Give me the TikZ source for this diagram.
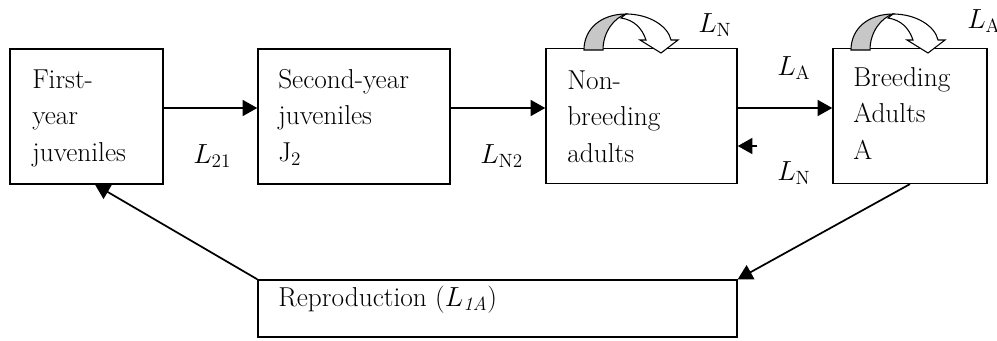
\documentclass[tikz,border=0pt]{standalone}
\usetikzlibrary{arrows.meta}
\begin{document}
\begin{tikzpicture}[x=0.75pt,y=-0.75pt,
  box/.style={draw, line width=1.1pt, inner sep=0pt, minimum height=101pt},
  txt/.style={anchor=base west, inner sep=0pt, font=\fontsize{20.5}{27.4}\selectfont},
  lab/.style={anchor=base west, inner sep=0pt, font=\fontsize{20.5}{24}\selectfont},
  arr/.style={line width=1.3pt, -{Triangle[length=11pt,width=12pt]}},
  loopar/.pic={
    \draw[line width=0.8pt, fill=white]
      (42,-36) .. controls (65,-36) and (84,-24) .. (87,-10)
      -- (94,-10) -- (77,3) -- (56,-10) -- (62,-10)
      .. controls (58,-22) and (50,-30) .. (37,-32) -- cycle;
    \draw[line width=0.8pt, fill=black!22]
      (0,0) .. controls (0,-22) and (18,-36) .. (42,-36)
      .. controls (30,-32) and (19,-18) .. (19,0) -- cycle;
  }]
\useasboundingbox (0,0) rectangle (997,340);

% boxes
\node[box, minimum width=114.75pt] (b1) at (86.5,116.5) {};
\node[box, minimum width=144pt] (b2) at (354,116.5) {};
\node[box, minimum width=143.25pt] (b3) at (641.5,116) {};
\node[box, minimum width=115.5pt] (b4) at (910,116) {};
\node[box, minimum width=359.25pt, minimum height=42.75pt] (rep) at (497.5,308.5) {};

% curved self-loop arrows
\pic at (584,50) {loopar};
\pic at (851,50) {loopar};

% box texts
\node[txt] (t1) at (32,88) {\begin{tabular}[t]{@{}l@{}}First-\\year\\juveniles\end{tabular}};
\node[txt] (t2) at (278,88) {\begin{tabular}[t]{@{}l@{}}Second-year\\juveniles\\J\textsubscript{2}\end{tabular}};
\node[txt] (t3) at (567,89) {\begin{tabular}[t]{@{}l@{}}Non-\\breeding\\adults\end{tabular}};
\node[txt] (t4) at (853,86) {\begin{tabular}[t]{@{}l@{}}Breeding\\Adults\\A\end{tabular}};
\node[txt] (t5) at (278,306) {Reproduction ($L_{\mathit{1A}}$)};

% connectors
\coordinate (nb) at (757,146);
\draw[arr] (b1.east |- 0,108) -- (b2.west |- 0,108);
\draw[arr] (b2.east |- 0,108) -- (b3.west |- 0,108);
\draw[arr] (b3.east |- 0,108) -- (b4.west |- 0,108);
\draw[arr] (nb) -- (b3.east |- nb);
\draw[arr] (b4.south) -- (rep.north east);
\draw[arr] (rep.north west) -- (b1.south -| 95,0);

% labels
\node[lab] (l21) at (193,163) {$L_{21}$};
\node[lab] (ln2) at (480,163) {$L_{\mathrm{N}2}$};
\node[lab] (la) at (777,75) {$L_{\mathrm{A}}$};
\node[lab] (ln) at (777,180) {$L_{\mathrm{N}}$};
\node[lab] (lnt) at (698,32) {$L_{\mathrm{N}}$};
\node[lab] (lat) at (967,28) {$L_{\mathrm{A}}$};
\end{tikzpicture}
\end{document}
